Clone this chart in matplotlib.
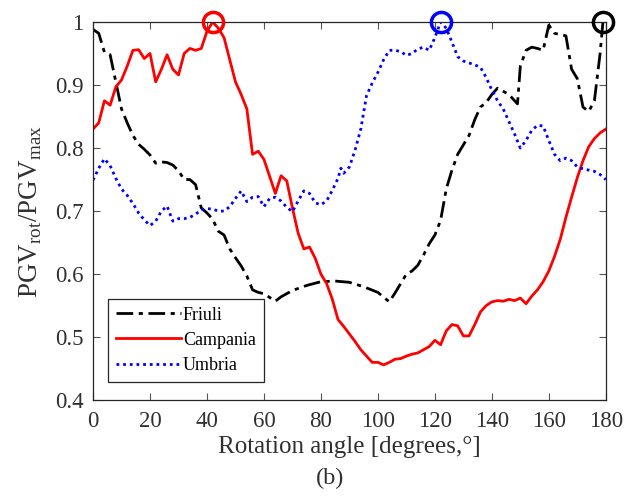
import matplotlib
matplotlib.use("Agg")
import matplotlib.pyplot as plt
import numpy as np

plt.rcParams['font.family'] = ['Liberation Serif', 'DejaVu Serif']
plt.rcParams['mathtext.fontset'] = 'custom'
plt.rcParams['mathtext.rm'] = 'Liberation Serif'

# Friuli
ang_fr = [0, 2, 4, 6, 8, 10, 12, 14, 16, 18, 20, 22, 24, 26, 28, 30, 32, 34, 36, 38,
          40, 42, 44, 46, 48, 50, 52, 54, 56, 58, 60, 62, 64, 66, 70, 75, 80, 85, 90,
          95, 100, 104, 106, 108, 110, 112, 114, 116, 118, 120, 122, 124, 126, 128,
          130, 132, 134, 136, 138, 140, 142, 144, 146, 148, 149, 150, 152, 154, 156,
          158, 160, 162, 164, 166, 168, 170, 172, 174, 176, 178, 179, 180]
pgv_fr = [0.988, 0.982, 0.952, 0.948, 0.905, 0.862, 0.840, 0.820, 0.806, 0.798, 0.789,
          0.776, 0.778, 0.777, 0.773, 0.764, 0.750, 0.750, 0.742, 0.705, 0.697, 0.687,
          0.668, 0.662, 0.640, 0.626, 0.613, 0.597, 0.575, 0.571, 0.569, 0.563, 0.557,
          0.564, 0.574, 0.582, 0.588, 0.589, 0.587, 0.580, 0.571, 0.556, 0.570, 0.585,
          0.600, 0.605, 0.614, 0.630, 0.648, 0.662, 0.685, 0.735, 0.765, 0.790, 0.805,
          0.820, 0.845, 0.865, 0.872, 0.885, 0.895, 0.890, 0.885, 0.875, 0.870, 0.930,
          0.955, 0.960, 0.958, 0.955, 0.995, 0.982, 0.980, 0.978, 0.925, 0.910, 0.865,
          0.858, 0.875, 0.950, 1.000, 0.998]

# Campania
ang_ca = list(range(0, 182, 2))
pgv_ca = [0.830, 0.840, 0.875, 0.868, 0.897, 0.908, 0.930, 0.955, 0.956, 0.942, 0.950,
          0.905, 0.925, 0.948, 0.925, 0.916, 0.950, 0.958, 0.955, 0.958, 0.985, 1.000,
          0.990, 0.975, 0.940, 0.905, 0.885, 0.862, 0.790, 0.795, 0.782, 0.755, 0.728,
          0.756, 0.748, 0.705, 0.665, 0.640, 0.643, 0.625, 0.600, 0.585, 0.560, 0.528,
          0.517, 0.505, 0.493, 0.480, 0.470, 0.460, 0.460, 0.456, 0.460, 0.465, 0.466,
          0.470, 0.473, 0.475, 0.480, 0.485, 0.495, 0.488, 0.510, 0.520, 0.518, 0.502,
          0.502, 0.520, 0.540, 0.550, 0.556, 0.558, 0.557, 0.560, 0.558, 0.562, 0.553,
          0.565, 0.575, 0.588, 0.605, 0.628, 0.655, 0.690, 0.722, 0.753, 0.780, 0.802,
          0.815, 0.824, 0.830]

# Umbria
ang_um = [0, 2, 4, 6, 8, 10, 12, 14, 16, 18, 20, 22, 24, 26, 28, 30, 32, 34, 36, 38,
          40, 42, 44, 46, 48, 50, 52, 54, 56, 58, 60, 62, 64, 66, 68, 70, 72, 74, 76,
          78, 80, 82, 84, 86, 87, 88, 90, 92, 94, 96, 98, 100, 102, 104, 106, 108, 110,
          112, 114, 116, 118, 120, 122, 124, 126, 128, 130, 132, 134, 136, 138, 140,
          142, 144, 146, 148, 150, 152, 154, 156, 158, 160, 162, 164, 166, 168, 170,
          172, 174, 176, 178, 180]
pgv_um = [0.749, 0.768, 0.783, 0.772, 0.752, 0.735, 0.725, 0.712, 0.697, 0.686, 0.677,
          0.684, 0.700, 0.708, 0.684, 0.688, 0.688, 0.690, 0.695, 0.702, 0.704, 0.703,
          0.700, 0.700, 0.707, 0.720, 0.732, 0.715, 0.722, 0.723, 0.707, 0.720, 0.722,
          0.716, 0.706, 0.699, 0.716, 0.732, 0.728, 0.713, 0.710, 0.716, 0.733, 0.752,
          0.768, 0.760, 0.770, 0.797, 0.830, 0.883, 0.903, 0.920, 0.940, 0.955, 0.955,
          0.953, 0.947, 0.950, 0.957, 0.960, 0.955, 0.975, 1.000, 0.990, 0.968, 0.945,
          0.938, 0.935, 0.932, 0.928, 0.912, 0.892, 0.875, 0.862, 0.842, 0.822, 0.800,
          0.812, 0.828, 0.836, 0.835, 0.812, 0.790, 0.780, 0.784, 0.780, 0.770, 0.767,
          0.765, 0.763, 0.758, 0.750]

fig = plt.figure(figsize=(6.35, 4.99), dpi=100)
ax = fig.add_axes([0.1465, 0.198, 0.8075, 0.758])

series = [
    (ang_fr, pgv_fr, 'k', (0, (6, 2, 1.5, 2)), 'Friuli'),
    (ang_ca, pgv_ca, 'r', '-', 'Campania'),
    (ang_um, pgv_um, 'b', (0, (1, 1.4)), 'Umbria'),
]
for ang, pgv, col, ls, name in series:
    ax.plot(ang, pgv, color=col, linestyle=ls, linewidth=2, label=name)

# circle the rotation angle giving the maximum
for ang, pgv, col, ls, name in series:
    i = int(np.argmax(pgv))
    ax.plot(ang[i], pgv[i], 'o', color=col, markersize=14.5, markerfacecolor='none',
            markeredgewidth=2.5, clip_on=False, zorder=5)

ax.set_xlim(0, 180)
ax.set_ylim(0.4, 1.0)
ax.set_xticks(range(0, 181, 20))
ax.set_yticks([0.4, 0.5, 0.6, 0.7, 0.8, 0.9, 1.0])
ax.set_yticklabels(['0.4', '0.5', '0.6', '0.7', '0.8', '0.9', '1'])
ax.tick_params(direction='in', top=True, right=True, labelsize=16.5, length=5,
               color='#555555', labelcolor='#303030')
ax.tick_params(axis='x', pad=8)
ax.tick_params(axis='y', pad=7)
for s in ax.spines.values():
    s.set_color('#262626')
    s.set_linewidth(0.9)

ax.set_xlabel('Rotation angle [degrees,°]', fontsize=18, color='#303030', labelpad=3)
ax.set_ylabel(r'PGV$_{\rm rot}$/PGV$_{\rm max}$', fontsize=19.5, color='#303030', labelpad=8)
fig.text(0.5205, 0.042, '(b)', ha='center', va='center', fontsize=17.5, color='#303030')

leg = ax.legend(loc='lower left', bbox_to_anchor=(0.029, 0.048), borderaxespad=0,
                fontsize=13, handlelength=3.6, handletextpad=0.1, labelspacing=0.45,
                borderpad=0.45, fancybox=False, framealpha=1)
leg.get_frame().set_edgecolor('#262626')
leg.get_frame().set_linewidth(0.9)

fig.savefig('out.png', dpi=100)
